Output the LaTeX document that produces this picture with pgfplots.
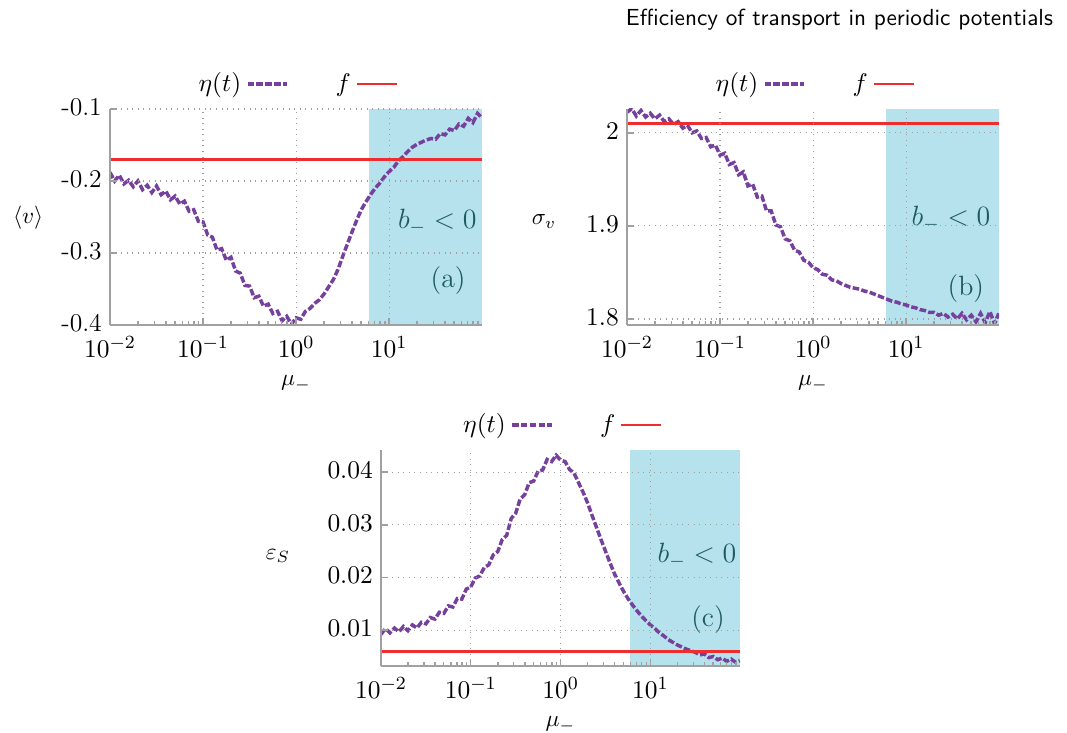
\documentclass[border=0pt]{standalone}
\usepackage{pgfplots}
\usepackage{pgfplotstable}
\pgfplotsset{compat=1.18}
\definecolor{curve}{RGB}{118,64,157}
\definecolor{fline}{RGB}{237,45,46}
\definecolor{shade}{RGB}{181,226,236}
\definecolor{tealtxt}{RGB}{30,90,95}
\definecolor{axgray}{RGB}{160,160,160}

\pgfplotstableread{
mu va sb ec
1e-2 -0.188 2.022 0.0092
1.122e-2 -0.200 2.026 0.0103
1.259e-2 -0.192 2.018 0.0095
1.413e-2 -0.204 2.024 0.0104
1.585e-2 -0.199 2.017 0.0097
1.778e-2 -0.208 2.021 0.0107
1.995e-2 -0.200 2.015 0.0099
2.239e-2 -0.212 2.019 0.0110
2.512e-2 -0.206 2.012 0.0104
2.818e-2 -0.216 2.015 0.0115
3.162e-2 -0.207 2.009 0.0112
3.548e-2 -0.219 2.012 0.0124
3.981e-2 -0.214 2.005 0.0121
4.467e-2 -0.226 2.008 0.0134
5.012e-2 -0.221 2.000 0.0132
5.623e-2 -0.232 2.002 0.0146
6.310e-2 -0.228 1.994 0.0144
7.079e-2 -0.242 1.995 0.0160
7.943e-2 -0.240 1.985 0.0159
8.913e-2 -0.256 1.987 0.0178
1e-1 -0.257 1.976 0.0182
1.122e-1 -0.275 1.978 0.0199
1.259e-1 -0.278 1.966 0.0203
1.413e-1 -0.296 1.968 0.0219
1.585e-1 -0.294 1.955 0.0224
1.778e-1 -0.310 1.958 0.0243
1.995e-1 -0.306 1.943 0.0249
2.239e-1 -0.325 1.945 0.0272
2.512e-1 -0.328 1.931 0.0280
2.818e-1 -0.345 1.932 0.0312
3.162e-1 -0.346 1.916 0.0322
3.548e-1 -0.362 1.916 0.0349
3.981e-1 -0.360 1.901 0.0357
4.467e-1 -0.374 1.899 0.0380
5.012e-1 -0.371 1.886 0.0383
5.623e-1 -0.384 1.884 0.0402
6.310e-1 -0.381 1.874 0.0404
7.079e-1 -0.394 1.872 0.0424
7.943e-1 -0.388 1.863 0.0420
8.913e-1 -0.399 1.861 0.0432
1 -0.390 1.855 0.0423
1.122 -0.392 1.853 0.0420
1.259 -0.381 1.848 0.0405
1.413 -0.377 1.847 0.0398
1.585 -0.370 1.842 0.0380
1.778 -0.365 1.841 0.0362
1.995 -0.357 1.838 0.0342
2.239 -0.347 1.836 0.0318
2.512 -0.337 1.834 0.0295
2.818 -0.323 1.833 0.0272
3.162 -0.305 1.832 0.0250
3.548 -0.288 1.830 0.0228
3.981 -0.271 1.829 0.0207
4.467 -0.255 1.827 0.0190
5.012 -0.240 1.825 0.0174
5.623 -0.229 1.823 0.0160
6.310 -0.219 1.821 0.0148
7.079 -0.210 1.819 0.0137
7.943 -0.203 1.818 0.0127
8.913 -0.194 1.816 0.0118
10 -0.187 1.815 0.0110
11.22 -0.181 1.813 0.0103
12.59 -0.172 1.812 0.0095
14.13 -0.166 1.810 0.0089
15.85 -0.159 1.809 0.0082
17.78 -0.153 1.807 0.0077
19.95 -0.149 1.807 0.0072
22.39 -0.146 1.804 0.0068
25.12 -0.143 1.806 0.0064
28.18 -0.141 1.802 0.0061
31.62 -0.142 1.805 0.0058
35.48 -0.134 1.800 0.0053
39.81 -0.136 1.806 0.0055
44.67 -0.128 1.799 0.0048
50.12 -0.130 1.804 0.0050
56.23 -0.121 1.797 0.0044
63.10 -0.124 1.806 0.0047
70.79 -0.113 1.796 0.0041
79.43 -0.119 1.808 0.0045
89.13 -0.106 1.795 0.0039
99 -0.112 1.806 0.0042
}\datatab

\pgfplotsset{
  mypanelstyle/.style={
    scale only axis, xmin=0.01, xmax=99.5,
    axis x line*=bottom, axis y line*=left,
    axis line style={axgray, line width=0.9pt},
    tick align=inside, major tick length=3pt, minor tick length=1.8pt,
    every tick/.style={axgray, line width=0.6pt},
    grid=major, grid style={dotted, gray!75, line width=0.5pt},
    axis on top, scaled y ticks=false,
    tick label style={font=\fontsize{11}{13}\selectfont},
    xticklabel style={yshift=-1.5pt},
    yticklabel style={yshift=0.8pt},
    label style={font=\fontsize{11}{13}\selectfont},
    legend style={at={(0.5,1.116)}, anchor=center, draw=none, fill=none,
      font=\fontsize{11}{13}\selectfont,
      legend columns=2, /tikz/every even column/.append style={column sep=18pt}},
    legend plot pos=right,
    every axis x label/.style={at={(rel axis cs:0.5,-0.27)}, anchor=center},
    xlabel={$\mu_-$},
  },
}
\tikzset{
  mycurve/.style={draw=curve, line width=1.5pt, dash pattern=on 2.8pt off 1pt},
  myf/.style={draw=fline, line width=1.2pt},
  myshade/.style={fill=shade, draw=none},
}

\begin{document}
\begin{tikzpicture}
\useasboundingbox (0,0) rectangle (458.81pt,-315.19pt);
\node[anchor=east, font=\sffamily\fontsize{10}{12}\selectfont] at (456.3pt,-8.6pt) {Efficiency of transport in periodic potentials};

% panel (a)
\begin{semilogxaxis}[mypanelstyle, at={(47.3pt,-139.75pt)}, anchor=south west,
  width=159.96pt, height=92.88pt,
  ymin=-0.4, ymax=-0.1,
  ytick={-0.4,-0.3,-0.2,-0.1}, yticklabels={-0.4,-0.3,-0.2,-0.1},
  every axis y label/.style={at={(rel axis cs:-0.22,0.495)}, anchor=center},
  ylabel={$\langle v\rangle$}]
\addplot[myshade, forget plot] coordinates {(6,-0.4) (6,-0.1) (99.5,-0.1) (99.5,-0.4)} -- cycle;
\addplot[mycurve] table[x=mu, y=va] {\datatab};
\addlegendentry{$\eta(t)$}
\addplot[myf] coordinates {(0.01,-0.17) (99.5,-0.17)};
\addlegendentry{$f$}
\node[tealtxt, font=\large] at (rel axis cs:0.88,0.477) {$b_- < 0$};
\node[tealtxt, font=\large] at (rel axis cs:0.909,0.208) {(a)};
\end{semilogxaxis}

% panel (b)
\begin{semilogxaxis}[mypanelstyle, at={(269.61pt,-139.75pt)}, anchor=south west,
  width=159.96pt, height=92.88pt,
  ymin=1.7935, ymax=2.0256,
  ytick={1.8,1.9,2}, yticklabels={$1.8$,$1.9$,$2$},
  every axis y label/.style={at={(rel axis cs:-0.223,0.48)}, anchor=center},
  ylabel={$\sigma_v$}]
\addplot[myshade, forget plot] coordinates {(6,1.7935) (6,2.0256) (99.5,2.0256) (99.5,1.7935)} -- cycle;
\addplot[mycurve] table[x=mu, y=sb] {\datatab};
\addlegendentry{$\eta(t)$}
\addplot[myf] coordinates {(0.01,2.0101) (99.5,2.0101)};
\addlegendentry{$f$}
\node[tealtxt, font=\large] at (rel axis cs:0.871,0.49) {$b_- < 0$};
\node[tealtxt, font=\large] at (rel axis cs:0.911,0.17) {(b)};
\end{semilogxaxis}

% panel (c)
\begin{semilogxaxis}[mypanelstyle, at={(163.83pt,-286.38pt)}, anchor=south west,
  width=154.37pt, height=92.88pt,
  ymin=0.0032, ymax=0.0442,
  ytick={0.01,0.02,0.03,0.04}, yticklabels={$0.01$,$0.02$,$0.03$,$0.04$},
  every axis y label/.style={at={(rel axis cs:-0.287,0.51)}, anchor=center},
  ylabel={$\varepsilon_S$}]
\addplot[myshade, forget plot] coordinates {(6,0.0032) (6,0.0442) (99.5,0.0442) (99.5,0.0032)} -- cycle;
\addplot[mycurve] table[x=mu, y=ec] {\datatab};
\addlegendentry{$\eta(t)$}
\addplot[myf] coordinates {(0.01,0.006) (99.5,0.006)};
\addlegendentry{$f$}
\node[tealtxt, font=\large] at (rel axis cs:0.88,0.51) {$b_- < 0$};
\node[tealtxt, font=\large] at (rel axis cs:0.911,0.213) {(c)};
\end{semilogxaxis}
\end{tikzpicture}
\end{document}
